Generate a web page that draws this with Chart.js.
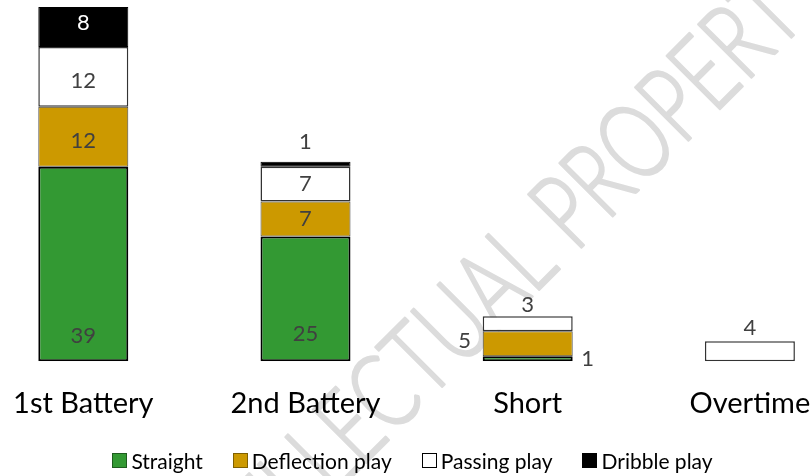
<!DOCTYPE html>
<html>
<head>
<meta charset="utf-8">
<script src="https://cdn.jsdelivr.net/npm/chart.js@4.4.1/dist/chart.umd.min.js"></script>
<style>
  html, body { margin: 0; padding: 0; background: #fff; overflow: hidden; }
  #wrap { position: relative; width: 812px; height: 476px; overflow: hidden; }
  #chartBox { position: absolute; left: -40px; top: 0; width: 1000px; height: 476px; }
  #legend { position: absolute; left: 0; top: 448px; width: 825px; display: flex; justify-content: center;
            font: 21px Lato, sans-serif; color: #000; }
  .item { display: flex; align-items: center; margin: 0 15px; }
  .box { width: 13px; height: 13px; border: 1px solid #000; margin-right: 4px; }
</style>
</head>
<body>
<div id="wrap">
  <div id="chartBox"><canvas id="playChart"></canvas></div>
  <div id="legend"></div>
</div>
<script>
const categories = ['1st Battery', '2nd Battery', 'Short', 'Overtime'];
const seriesNames = ['Straight', 'Deflection play', 'Passing play', 'Dribble play'];
const straight = [39, 25, 1, 0];
const deflection = [12, 7, 5, 0];
const passing = [12, 7, 3, 4];
const dribble = [8, 1, 0, 0];

const fills = ['#339933', '#cc9900', '#ffffff', '#000000'];
const borders = ['#000000', '#404040', '#333333', '#000000'];
const borderWidths = [2, 1, 1.5, 1];

// where each value label sits (pos + pixel distance), one row per series
const labelPlacement = [
  [{pos: 'base', d: 25}, {pos: 'base', d: 27}, {pos: 'right', d: 15}, null],
  [{pos: 'center', dy: 4}, {pos: 'center'}, {pos: 'left', d: 18, dy: -3}, null],
  [{pos: 'center', dy: 4}, {pos: 'center'}, {pos: 'above', d: 11}, {pos: 'above', d: 13}],
  [{pos: 'center', dy: -4, color: '#ffffff'}, {pos: 'above', d: 20}, null, null]
];

const CANVAS_SHIFT = 40; // canvas starts 40px left of the page
const watermarkText = 'INTELLECTUAL PROPERTY';

const watermark = {
  id: 'watermark',
  beforeDraw(chart) {
    const ctx = chart.ctx;
    ctx.save();
    ctx.translate(487 + CANVAS_SHIFT, 288);
    ctx.rotate(-Math.PI / 4);
    ctx.font = '300 106px Lato';
    const w = ctx.measureText(watermarkText).width;
    ctx.scale(924 / w, 1);
    ctx.fillStyle = '#dcdcdc';
    ctx.strokeStyle = '#dcdcdc';
    ctx.lineWidth = 2.5;
    ctx.lineJoin = 'round';
    ctx.textAlign = 'center';
    ctx.textBaseline = 'alphabetic';
    ctx.fillText(watermarkText, 0, 38);
    ctx.strokeText(watermarkText, 0, 38);
    ctx.restore();
  }
};

const valueLabels = {
  id: 'valueLabels',
  afterDatasetsDraw(chart) {
    const ctx = chart.ctx;
    ctx.save();
    ctx.font = '22px Lato';
    ctx.textAlign = 'center';
    ctx.textBaseline = 'middle';
    chart.data.datasets.forEach((ds, di) => {
      const meta = chart.getDatasetMeta(di);
      meta.data.forEach((bar, i) => {
        const v = ds.data[i];
        const p = labelPlacement[di][i];
        if (!v || !p) return;
        const {x: bx, y: top, base, width} = bar.getProps(['x', 'y', 'base', 'width'], true);
        let x = bx, y = (top + base) / 2;
        if (p.pos === 'base') y = base - p.d;
        else if (p.pos === 'above') y = top - p.d;
        else if (p.pos === 'left') x = bx - width / 2 - p.d;
        else if (p.pos === 'right') x = bx + width / 2 + p.d;
        y += p.dy || 0;
        ctx.fillStyle = p.color || '#404040';
        ctx.fillText(String(v), x, y);
      });
    });
    ctx.restore();
  }
};

const seriesData = [straight, deflection, passing, dribble];

function makeChart() {
  const ctx = document.getElementById('playChart').getContext('2d');
  new Chart(ctx, {
    type: 'bar',
    data: {
      labels: categories,
      datasets: seriesNames.map((name, k) => ({
        label: name,
        data: seriesData[k],
        backgroundColor: fills[k],
        borderColor: borders[k],
        borderWidth: c => (c.raw ? borderWidths[k] : 0),
        borderSkipped: false,
        categoryPercentage: 1,
        barPercentage: 0.405
      }))
    },
    options: {
      responsive: true,
      maintainAspectRatio: false,
      animation: false,
      layout: {
        padding: { left: 12.2, right: 99, top: 7, bottom: 30 }
      },
      plugins: {
        legend: { display: false },
        tooltip: { enabled: false }
      },
      scales: {
        x: {
          stacked: true,
          grid: { display: false, drawTicks: false },
          border: { display: false },
          ticks: {
            color: '#000000',
            padding: 25,
            font: { family: 'Lato', size: 29 }
          }
        },
        y: {
          stacked: true,
          display: false,
          min: 0,
          max: 71
        }
      }
    },
    plugins: [watermark, valueLabels]
  });
}

// html legend, built from the same series
const legendEl = document.getElementById('legend');
seriesNames.forEach((name, k) => {
  const item = document.createElement('div');
  item.className = 'item';
  const box = document.createElement('span');
  box.className = 'box';
  box.style.background = fills[k];
  box.style.borderColor = k === 1 ? '#7f6000' : (k === 0 ? '#1e5c1e' : '#000');
  const txt = document.createElement('span');
  txt.textContent = name;
  item.appendChild(box);
  item.appendChild(txt);
  legendEl.appendChild(item);
});

document.fonts.load('22px Lato').then(makeChart, makeChart);
</script>
</body>
</html>
